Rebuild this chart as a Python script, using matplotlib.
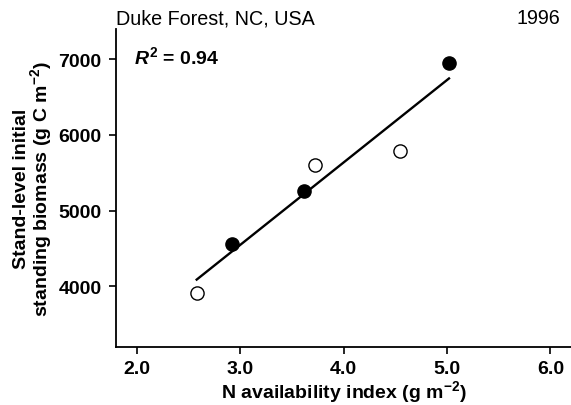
import numpy as np
import matplotlib
matplotlib.use("Agg")
import matplotlib.pyplot as plt

plt.rcParams['font.family'] = ['Liberation Sans', 'DejaVu Sans']
plt.rcParams['mathtext.fontset'] = 'custom'
plt.rcParams['mathtext.rm'] = 'Liberation Sans:bold'
plt.rcParams['mathtext.bf'] = 'Liberation Sans:bold'
plt.rcParams['mathtext.it'] = 'Liberation Sans:bold:italic'

# Data
filled_x = [2.92, 3.62, 5.02]
filled_y = [4560, 5260, 6945]
open_x = [2.58, 3.72, 4.55]
open_y = [3915, 5605, 5790]
x_ticks = [2.0, 3.0, 4.0, 5.0, 6.0]
x_ticklabels = ["2.0", "3.0", "4.0", "5.0", "6.0"]
y_ticks = [4000, 5000, 6000, 7000]
r2_text = r'$\mathit{R}^{\mathbf{2}}$ = 0.94'

fig = plt.figure(figsize=(5.71, 4.06), dpi=100)
ax = fig.add_axes([0.2032, 0.1436, 0.7968, 0.7825])

all_x = np.array(filled_x + open_x)
all_y = np.array(filled_y + open_y)
slope, intercept = np.polyfit(all_x, all_y, 1)
xl = np.array([all_x.min(), all_x.max()])
ax.plot(xl, slope * xl + intercept, color='black', lw=1.7, zorder=2)

ax.plot(filled_x, filled_y, 'o', ms=9.5, mfc='black', mec='black', mew=1, zorder=3)
ax.plot(open_x, open_y, 'o', ms=9.5, mfc='white', mec='black', mew=1, zorder=3)

ax.set_xlim(1.8, 6.2)
ax.set_ylim(3200, 7400)
ax.set_xticks(x_ticks)
ax.set_xticklabels(x_ticklabels)
ax.set_yticks(y_ticks)
for lab in ax.get_xticklabels() + ax.get_yticklabels():
    lab.set_fontweight('bold')
    lab.set_fontsize(14)
ax.tick_params(axis='y', direction='out', length=5, width=1.2, pad=5.5)
ax.tick_params(axis='x', direction='out', length=5, width=1.2, pad=4.5)

ax.spines['top'].set_visible(False)
ax.spines['right'].set_visible(False)
ax.spines['left'].set_linewidth(1.3)
ax.spines['bottom'].set_linewidth(1.3)

ax.set_xlabel('N availability index (g m$^{-2}$)', fontsize=14, fontweight='bold', labelpad=1)
ax.set_ylabel('Stand-level initial\nstanding biomass (g C m$^{-2}$)', fontsize=14,
              fontweight='bold', labelpad=3, linespacing=0.9)

ax.text(0.0, 1.018, 'Duke Forest, NC, USA', transform=ax.transAxes, fontsize=14.2,
        ha='left', va='baseline')
ax.text(0.976, 1.018, '1996', transform=ax.transAxes, fontsize=14.2,
        ha='right', va='baseline')
ax.text(0.04, 0.915, r2_text, transform=ax.transAxes, fontsize=14, fontweight='bold',
        ha='left', va='center')

fig.savefig('out.png', dpi=100)
